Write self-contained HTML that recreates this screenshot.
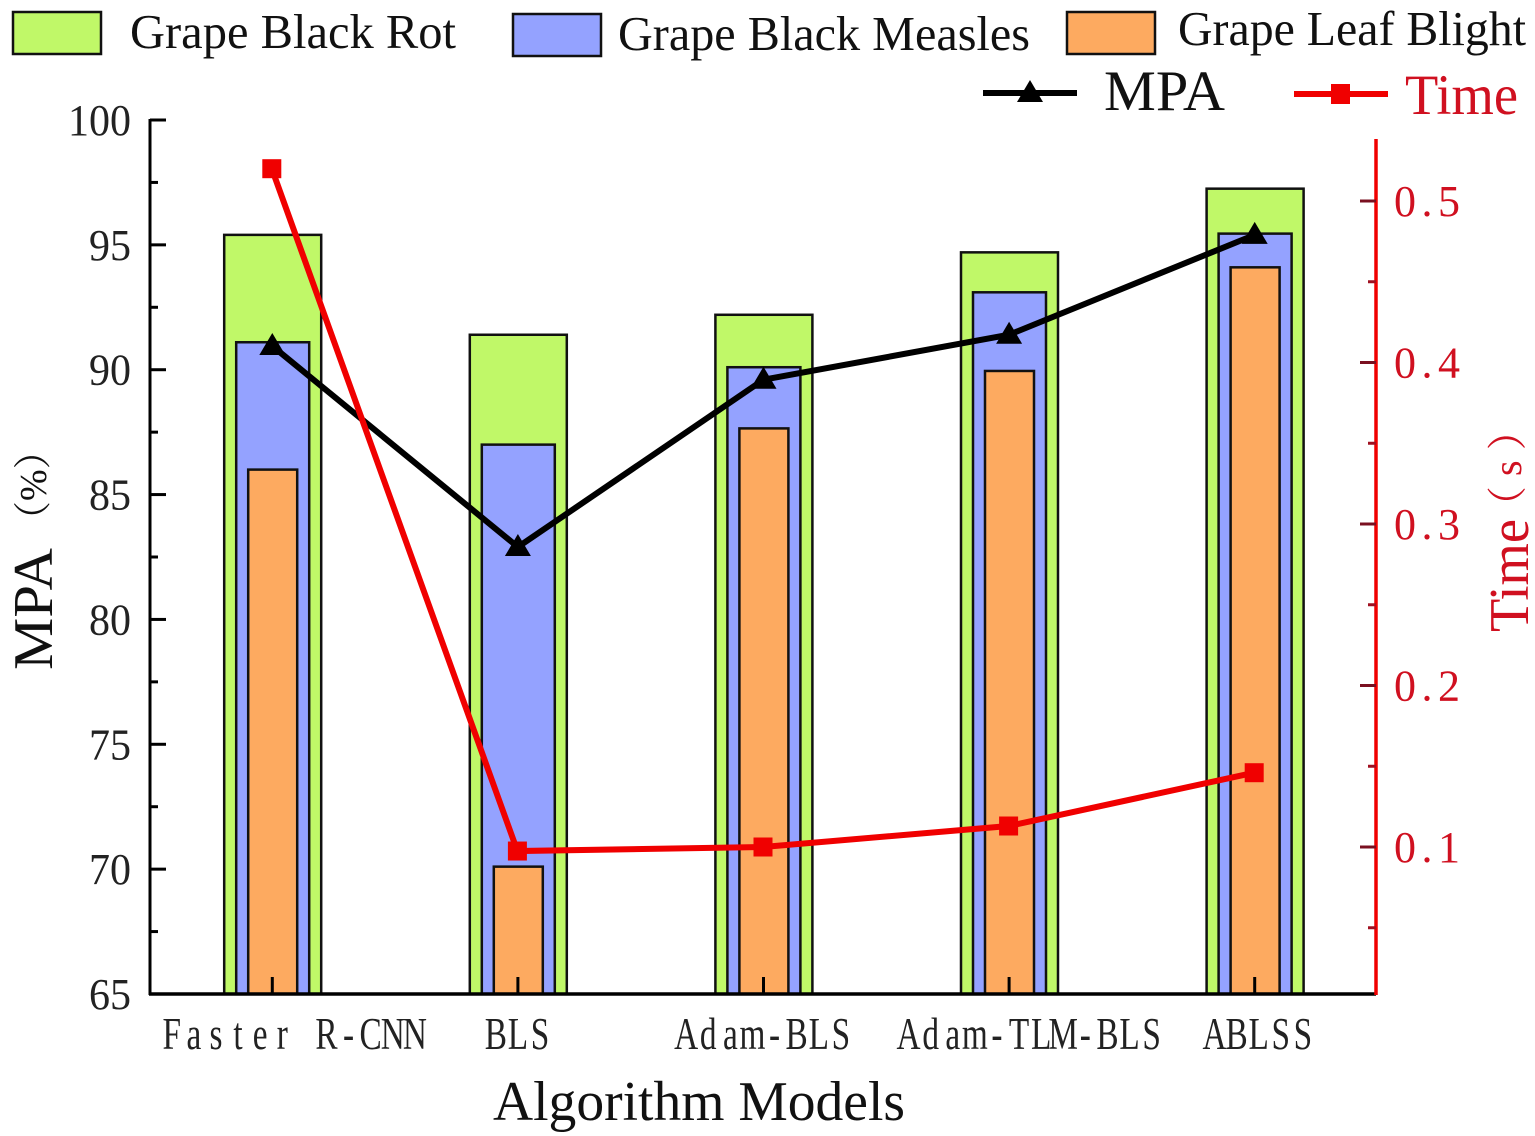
<!DOCTYPE html>
<html lang="en">
<head>
<meta charset="utf-8">
<title>MPA and Time by Algorithm Model</title>
<style>
html,body{margin:0;padding:0;background:#fff;width:1535px;height:1136px;overflow:hidden}
svg{display:block}
text{font-family:"Liberation Serif","Noto Serif CJK SC",serif}
</style>
</head>
<body>
<svg id="chart" xmlns="http://www.w3.org/2000/svg" width="1535" height="1136" viewBox="0 0 1535 1136">
  <g id="bars"></g>
  <g id="axes"></g>
  <g id="lines"></g>

  <g>
    <g>
      <rect x="13" y="12" width="88" height="42" fill="#c0f868" stroke="#111" stroke-width="2.5"/>
      <text x="130" y="48" font-size="49" textLength="326" lengthAdjust="spacingAndGlyphs" fill="#111">Grape Black Rot</text>
    </g>
    <g>
      <rect x="513" y="14" width="88" height="42" fill="#94a2ff" stroke="#111" stroke-width="2.5"/>
      <text x="618" y="50" font-size="49" textLength="412" lengthAdjust="spacingAndGlyphs" fill="#111">Grape Black Measles</text>
    </g>
    <g>
      <rect x="1067" y="12" width="88" height="42" fill="#fdaa60" stroke="#111" stroke-width="2.5"/>
      <text x="1178" y="45" font-size="49" textLength="348" lengthAdjust="spacingAndGlyphs" fill="#111">Grape Leaf Blight</text>
    </g>
    <g>
      <line x1="983" y1="93" x2="1077" y2="93" stroke="#000" stroke-width="6"/>
      <polygon points="1030,80 1017,102 1043,102" fill="#000"/>
      <text x="1104" y="110" font-size="57" textLength="121" lengthAdjust="spacingAndGlyphs" fill="#111">MPA</text>
    </g>
    <g>
      <line x1="1294" y1="94" x2="1388" y2="94" stroke="#f00000" stroke-width="6"/>
      <rect x="1331" y="84" width="19" height="20" fill="#f00000"/>
      <text x="1405" y="114" font-size="57" textLength="113" lengthAdjust="spacingAndGlyphs" fill="#d01020">Time</text>
    </g>
  </g>

  <text x="493" y="1120" font-size="56" textLength="412" lengthAdjust="spacingAndGlyphs" fill="#111">Algorithm Models</text>
  <g transform="translate(52,670) rotate(-90)">
    <text x="0" y="0" font-size="56" textLength="122" lengthAdjust="spacingAndGlyphs" fill="#111">MPA</text>
    <text x="131" y="-6" font-size="38" fill="#111">（%）</text>
  </g>
  <g transform="translate(1528,632) rotate(-90)">
    <text x="0" y="0" font-size="56" textLength="113" lengthAdjust="spacingAndGlyphs" fill="#d01020">Time</text>
    <text x="106" y="-7" font-size="40" letter-spacing="10" fill="#d01020">（s）</text>
  </g>
</svg>

<script>
const categories = ["Faster R-CNN", "BLS", "Adam-BLS", "Adam-TLM-BLS", "ABLSS"];
const blackRot = [95.4, 91.4, 92.2, 94.7, 97.25];
const blackMeasles = [91.1, 87.0, 90.1, 93.1, 95.45];
const leafBlight = [86.0, 70.1, 87.65, 89.95, 94.1];
const mpaValues = [90.95, 82.9, 89.6, 91.4, 95.4];
const timeValues = [0.52, 0.0975, 0.1, 0.113, 0.146];
const leftTicks = [100, 95, 90, 85, 80, 75, 70, 65];
const leftMinorTicks = [97.5, 92.5, 87.5, 82.5, 77.5, 72.5, 67.5];
const rightTicks = [0.5, 0.4, 0.3, 0.2, 0.1];
const rightMinorTicks = [0.45, 0.35, 0.25, 0.15, 0.05];

const NS = "http://www.w3.org/2000/svg";
const PLOT_LEFT = 150, PLOT_RIGHT = 1376, PLOT_BOTTOM = 994, RIGHT_TOP = 139;
const yLeft = v => 120 + (100 - v) * (874 / 35);
const yRight = v => 847 - (v - 0.1) * 1615;
const xCat = i => 272.3 + i * 245.6;

function make(tag, attrs, parent) {
  const el = document.createElementNS(NS, tag);
  for (const k in attrs) el.setAttribute(k, attrs[k]);
  parent.appendChild(el);
  return el;
}

const barsG = document.getElementById("bars");
const axesG = document.getElementById("axes");
const linesG = document.getElementById("lines");

function drawBars(values, width, fill, label) {
  values.forEach((v, i) => {
    const top = yLeft(v);
    const r = make("rect", {x: xCat(i) - width / 2 + 0.4, y: top, width: width, height: PLOT_BOTTOM - top, fill: fill, stroke: "#111", "stroke-width": 2.5}, barsG);
    
    
  });
}
drawBars(blackRot, 97, "#c0f868", "grape-black-rot");
drawBars(blackMeasles, 73, "#94a2ff", "grape-black-measles");
drawBars(leafBlight, 49, "#fdaa60", "grape-leaf-blight");

/* left axis */
const leftAxis = make("line", {x1: PLOT_LEFT, y1: 119, x2: PLOT_LEFT, y2: PLOT_BOTTOM + 1, stroke: "#000", "stroke-width": 3}, axesG);


const xAxis = make("line", {x1: PLOT_LEFT - 1, y1: PLOT_BOTTOM, x2: PLOT_RIGHT, y2: PLOT_BOTTOM, stroke: "#000", "stroke-width": 3.5}, axesG);



leftTicks.forEach(v => {
  const y = yLeft(v);
  const t = make("line", {x1: PLOT_LEFT, y1: y, x2: PLOT_LEFT + 16, y2: y, stroke: "#000", "stroke-width": 3}, axesG);
  
  
  const l = make("text", {x: 131, y: y + 15, "text-anchor": "end", "font-size": 44, fill: "#222", textLength: String(v).length * 21, lengthAdjust: "spacingAndGlyphs"}, axesG);
  l.textContent = v;
  
  
});
leftMinorTicks.forEach(v => {
  const y = yLeft(v);
  const t = make("line", {x1: PLOT_LEFT, y1: y, x2: PLOT_LEFT + 8, y2: y, stroke: "#000", "stroke-width": 3}, axesG);
  
  
});

/* right axis */
const rightAxis = make("line", {x1: PLOT_RIGHT, y1: RIGHT_TOP, x2: PLOT_RIGHT, y2: PLOT_BOTTOM + 1, stroke: "#f00000", "stroke-width": 3.5}, axesG);


rightTicks.forEach(v => {
  const y = yRight(v);
  const t = make("line", {x1: PLOT_RIGHT - 16, y1: y, x2: PLOT_RIGHT, y2: y, stroke: "#7a1020", "stroke-width": 3}, axesG);
  
  
  const l = make("text", {x: 1394, y: y + 15, "font-size": 44, fill: "#d01020", textLength: 66, lengthAdjust: "spacing"}, axesG);
  l.textContent = v.toFixed(1);
  
  
});
rightMinorTicks.forEach(v => {
  const y = yRight(v);
  const t = make("line", {x1: PLOT_RIGHT - 8, y1: y, x2: PLOT_RIGHT, y2: y, stroke: "#a01020", "stroke-width": 3}, axesG);
  
  
});

/* x ticks and category labels: narrow serif glyphs centred in equal-width cells */
const LABEL_SCALE = 0.74;
const CELL_WIDTH = 22.1;
categories.forEach((c, i) => {
  const x = xCat(i);
  const t = make("line", {x1: x, y1: PLOT_BOTTOM, x2: x, y2: PLOT_BOTTOM - 17, stroke: "#000", "stroke-width": 3}, axesG);
  
  
  const labelOffset = i === 0 || i === 3 ? 21 : i === 4 ? 4 : 0;
  const start = x + labelOffset - c.length * CELL_WIDTH / 2;
  const cells = Array.from(c, (ch, k) => ((k + 0.5) * CELL_WIDTH / LABEL_SCALE).toFixed(2)).join(" ");
  const l = make("text", {x: cells, y: 0, transform: "translate(" + start + ",1049) scale(" + LABEL_SCALE + ",1)", "text-anchor": "middle", "font-size": 45, fill: "#222"}, axesG);
  l.textContent = c;
  
  
});

/* black MPA line */
const mpaLine = make("polyline", {points: mpaValues.map((v, i) => xCat(i) + "," + yLeft(v)).join(" "), fill: "none", stroke: "#000", "stroke-width": 6}, linesG);


mpaValues.forEach((v, i) => {
  const x = xCat(i), y = yLeft(v);
  const m = make("polygon", {points: x + "," + (y - 13) + " " + (x - 13) + "," + (y + 9) + " " + (x + 13) + "," + (y + 9), fill: "#000"}, linesG);
  
  
});

/* red Time line */
const timeLine = make("polyline", {points: timeValues.map((v, i) => (xCat(i) - 0.5) + "," + yRight(v)).join(" "), fill: "none", stroke: "#f00000", "stroke-width": 6}, linesG);


timeValues.forEach((v, i) => {
  const x = xCat(i) - 0.5, y = yRight(v);
  const m = make("rect", {x: x - 9.5, y: y - 9.5, width: 19, height: 19, fill: "#f00000"}, linesG);
  
  
});
</script>
</body>
</html>
